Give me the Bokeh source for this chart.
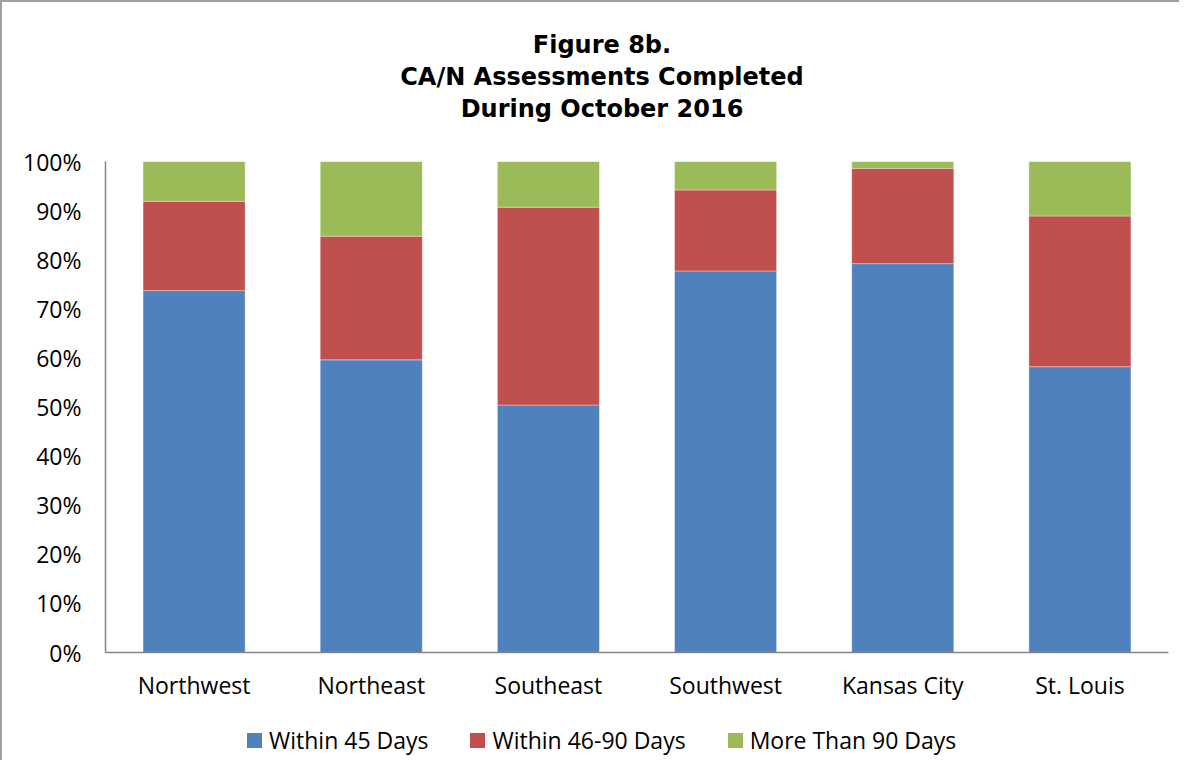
from bokeh.plotting import figure
from bokeh.layouts import column
from bokeh.models import ColumnDataSource, FixedTicker, Range1d, PrintfTickFormatter, Div
from bokeh.embed import file_html
from bokeh.resources import INLINE

regions = ["Northwest", "Northeast", "Southeast", "Southwest", "Kansas City", "St. Louis"]
within_45 = [73.7, 59.6, 50.4, 77.7, 79.2, 58.2]
within_46_90 = [18.2, 25.2, 40.3, 16.5, 19.4, 30.7]
more_90 = [8.1, 15.2, 9.3, 5.8, 1.4, 11.1]
series = ["Within 45 Days", "Within 46-90 Days", "More Than 90 Days"]
colors = ["#4F81BD", "#C0504D", "#9BBB59"]
y_ticks = [0, 10, 20, 30, 40, 50, 60, 70, 80, 90, 100]
title_lines = ["Figure 8b.", "CA/N Assessments Completed", "During October 2016"]

source = ColumnDataSource(data=dict(region=regions, w45=within_45, w4690=within_46_90, m90=more_90))

# ---- title block
title_html = (
    '<div style="width:1000px; margin-left:100px; padding-top:27px; text-align:center; '
    "font-family:'DejaVu Sans'; font-weight:bold; font-size:24px; line-height:32px; color:#000;\">"
    + "<br>".join(title_lines) + "</div>"
)
title_div = Div(text=title_html, width=1177, height=130, margin=0)

# ---- chart
p = figure(x_range=regions, y_range=Range1d(0, 100), width=1177, height=572,
           output_backend="svg", toolbar_location=None,
           min_border_left=103, min_border_right=11, min_border_top=29, min_border_bottom=52)
p.margin = 0
p.title.text = ""
p.title.visible = False
p.outline_line_color = None
p.xgrid.grid_line_color = None
p.ygrid.grid_line_color = None
p.background_fill_color = "white"
p.border_fill_color = "white"

p.vbar_stack(["w45", "w4690", "m90"], x="region", width=0.576, source=source,
             color=colors, line_color="white", line_alpha=0.35, line_width=1)

for ax in (p.xaxis[0], p.yaxis[0]):
    ax.axis_line_color = "#868686"
    ax.axis_line_width = 1.5
    ax.major_tick_line_color = None
    ax.minor_tick_line_color = None
    ax.major_tick_in = 0
    ax.major_tick_out = 0
    ax.minor_tick_in = 0
    ax.minor_tick_out = 0
    ax.major_label_text_font = "Open Sans"
    ax.major_label_text_font_size = "23px"
    ax.major_label_text_color = "#000000"

p.yaxis[0].ticker = FixedTicker(ticks=y_ticks)
p.yaxis[0].formatter = PrintfTickFormatter(format="%d%%")
p.yaxis[0].major_label_standoff = 24
p.xaxis[0].major_label_standoff = 16

# ---- legend block (built from the series names and colours)
items_html = ""
for i, (s, c) in enumerate(zip(series, colors)):
    gap = "42px" if i < len(series) - 1 else "0px"
    items_html += (
        f'<span style="display:inline-block; width:15px; height:15px; background:{c}; '
        f'margin-right:7px; flex:none;"></span>'
        f'<span style="margin-right:{gap}; white-space:nowrap;">{s}</span>'
    )
legend_html = (
    '<div style="position:relative; width:1177px; height:56px;">'
    '<div style="position:absolute; left:245px; top:22px; display:flex; align-items:center; '
    "font-family:'Open Sans'; font-size:23px; line-height:28px; color:#000;\">"
    + items_html + "</div></div>"
)
legend_div = Div(text=legend_html, width=1177, height=56, margin=0)

layout = column(title_div, p, legend_div, spacing=0)
layout.styles = {"border-left": "2px solid #a0a0a0", "border-top": "2px solid #a0a0a0",
                 "background-color": "white"}

open("out.html", "w").write(file_html(layout, INLINE))
